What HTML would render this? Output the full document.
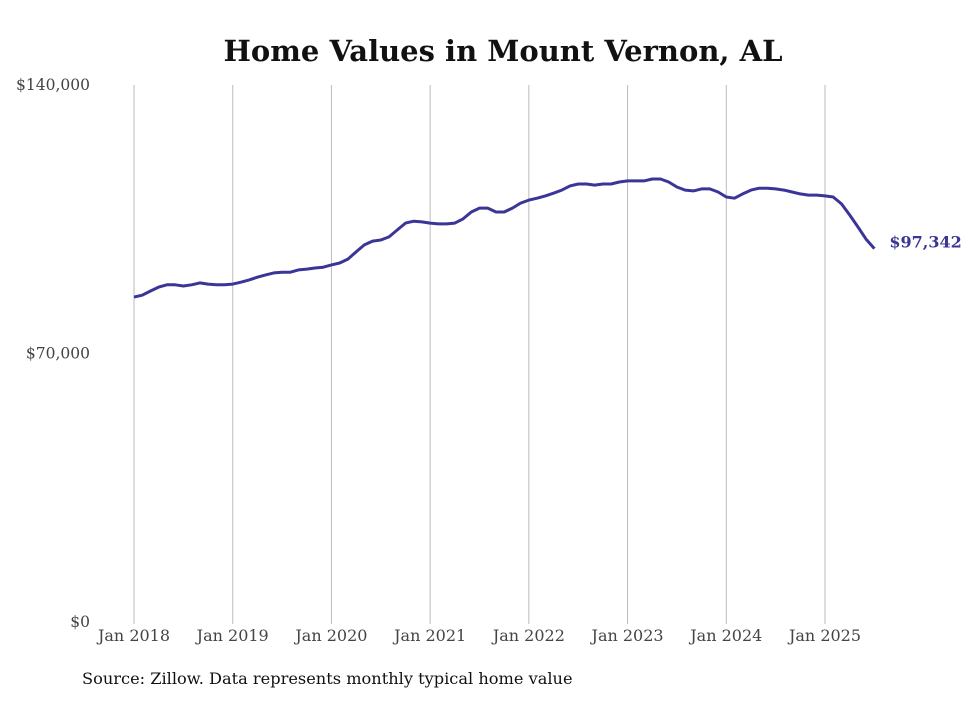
<!DOCTYPE html>
<html><head><meta charset="utf-8"><style>
body{margin:0;background:#fff;width:980px;height:699px;overflow:hidden}
svg{font-family:"DejaVu Serif","Liberation Serif",serif}
</style></head><body>
<svg width="980" height="699">
<text x="503" y="61" text-anchor="middle" font-size="29" font-weight="bold" fill="#111">Home Values in Mount Vernon, AL</text>
<g id="grid"></g><g id="yt"></g><g id="xt"></g>
<path id="line" fill="none" stroke="#3a3596" stroke-width="3" stroke-linejoin="round"/>
<text id="lastlbl" font-size="16" font-weight="bold" fill="#3a3596"></text>
<text x="82" y="684" font-size="16.2" fill="#111">Source: Zillow. Data represents monthly typical home value</text>
</svg>
<script>
const startYear = 2018;
const values = [84.7,85.2,86.3,87.3,87.9,87.9,87.6,87.9,88.4,88.1,87.9,87.9,
88.1,88.6,89.2,89.9,90.5,91.0,91.2,91.2,91.8,92.0,92.3,92.5,
93.1,93.6,94.6,96.5,98.3,99.3,99.6,100.4,102.2,104.0,104.5,104.3,
104.0,103.8,103.8,104.0,105.1,106.9,107.9,107.9,106.9,106.9,107.9,109.2,
110.0,110.5,111.1,111.8,112.6,113.7,114.2,114.2,113.9,114.2,114.2,114.7,
115.0,115.0,115.0,115.5,115.5,114.7,113.4,112.6,112.4,112.9,112.9,112.1,
110.8,110.5,111.6,112.6,113.1,113.1,112.9,112.6,112.1,111.6,111.3,111.3,
111.1,110.8,109.0,106.1,103.0,99.8,97.342];
const yTicks = [0,70000,140000];
const yTickLabels = ["$0","$70,000","$140,000"];
const xTickLabels = ["Jan 2018","Jan 2019","Jan 2020","Jan 2021","Jan 2022","Jan 2023","Jan 2024","Jan 2025"];
const NS="http://www.w3.org/2000/svg";
const x0=134, pxPerMonth=(825-134)/84;
const X=m=>x0+m*pxPerMonth;
const Y=v=>622-v/140000*537;
function mk(t,a,p){const e=document.createElementNS(NS,t);for(const k in a)e.setAttribute(k,a[k]);document.getElementById(p).appendChild(e);return e;}
xTickLabels.forEach((l,i)=>{
 const g=mk('line',{x1:X(i*12),x2:X(i*12),y1:85,y2:624,stroke:'#bbb','stroke-width':1},'grid');
 
 
 const t=mk('text',{x:X(i*12),y:641,'text-anchor':'middle','font-size':16,fill:'#444'},'xt');
 t.textContent=l;
 
 
});
yTicks.forEach((v,i)=>{
 const t=mk('text',{x:90,y:Y(v)+5,'text-anchor':'end','font-size':15.5,fill:'#444'},'yt');
 t.textContent=yTickLabels[i];
 
 
});
document.getElementById('line').setAttribute('d',values.map((v,i)=>(i?'L':'M')+X(i).toFixed(1)+','+Y(v*1000).toFixed(1)).join(''));
const last=values.length-1, lv=values[last]*1000;
const ll=document.getElementById('lastlbl');
ll.setAttribute('x',X(last)+15);ll.setAttribute('y',Y(lv)-1);
ll.textContent='$'+Math.round(lv).toLocaleString('en-US');
</script>
</body></html>
